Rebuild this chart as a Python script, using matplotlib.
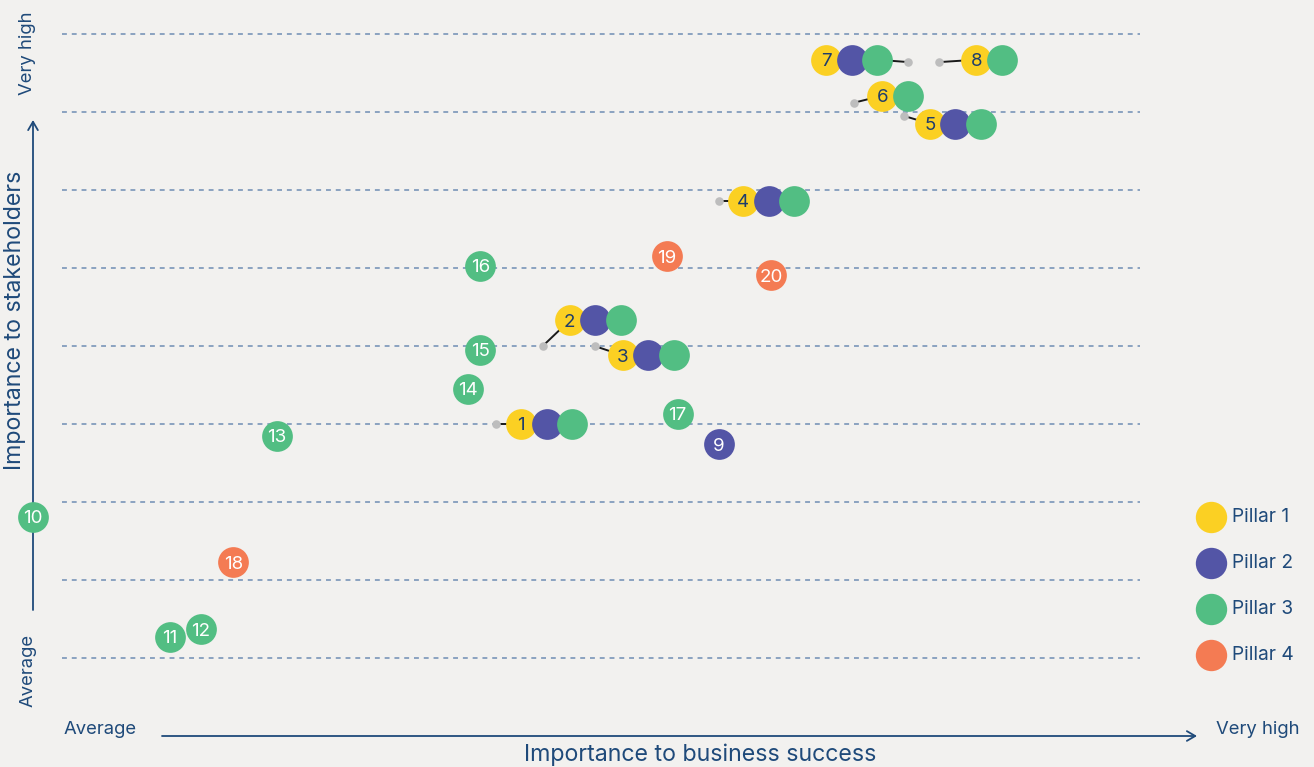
import matplotlib
matplotlib.use("Agg")
from matplotlib import pyplot as plt

# ---- data -----------------------------------------------------------------
# standalone topics: id, business importance (x), stakeholder importance (y), pillar
single_ids = [9, 10, 11, 12, 13, 14, 15, 16, 17, 18, 19, 20]
single_x = [6.09, -0.27, 1.00, 1.29, 1.99, 3.77, 3.88, 3.88, 5.71, 1.59, 5.61, 6.58]
single_y = [2.74, 1.81, 0.27, 0.37, 2.85, 3.45, 3.95, 5.03, 3.13, 1.23, 5.15, 4.91]
single_pillar = [2, 3, 3, 3, 3, 3, 3, 3, 3, 4, 4, 4]

# topics shared by several pillars: true position (grey dot) + label position
group_ids = [1, 2, 3, 4, 5, 6, 7, 8]
group_x = [4.03, 4.46, 4.94, 6.09, 7.81, 7.35, 7.85, 8.14]
group_y = [3.00, 4.00, 4.00, 5.86, 6.95, 7.12, 7.64, 7.64]
label_x = [4.26, 4.71, 5.20, 6.32, 8.05, 7.61, 7.09, 8.48]
label_y = [3.00, 4.33, 3.88, 5.86, 6.85, 7.21, 7.67, 7.67]
group_pillars = [[1, 2, 3], [1, 2, 3], [1, 2, 3], [1, 2, 3],
                 [1, 2, 3], [1, 3], [1, 2, 3], [1, 3]]
# which circle of the cluster the leader line ends on (7 is joined at its right end)
leader_to_last = [False, False, False, False, False, False, True, False]

pillar_names = ["Pillar 1", "Pillar 2", "Pillar 3", "Pillar 4"]
grid_levels = list(range(0, 9))

# ---- style ----------------------------------------------------------------
BG = "#F2F1EF"
NAVY = "#1F4A7A"
COLORS = {1: "#FBD023", 2: "#5355A6", 3: "#52BE83", 4: "#F47B53"}
TXT = {1: "#1F3D6B", 2: "white", 3: "white", 4: "white"}
FONT = "Inter"
S = 490          # circle marker area
STEP = 25.5 / 107.8  # horizontal spacing of circles in a cluster (data units)
NUM_FS = 13.5

plt.rcParams["font.family"] = [FONT, "DejaVu Sans"]

W, H = 1314, 767
fig = plt.figure(figsize=(W / 100, H / 100), dpi=100, facecolor=BG)
ax = fig.add_axes([0, 0, 1, 1])
ax.set_facecolor(BG)
ax.set_xlim(-62 / 107.8, (W - 62) / 107.8)
ax.set_ylim((658 - H) / 78, 658 / 78)
ax.axis("off")

# dashed reference lines
ax.hlines(grid_levels, 0, 10, colors="#6F8DB4", linestyles=(0, (3.2, 3.2)), lw=1.1, zorder=1)

# standalone topics
for i, x, y, p in zip(single_ids, single_x, single_y, single_pillar):
    ax.scatter(x, y, s=S, color=COLORS[p], lw=0, zorder=4, clip_on=False)
    ax.text(x, y, str(i), ha="center", va="center_baseline", fontsize=NUM_FS, color=TXT[p],
            zorder=5)

# clustered topics
for k, i in enumerate(group_ids):
    pills = group_pillars[k]
    xs = [label_x[k] + j * STEP for j in range(len(pills))]
    end_x = xs[-1] if leader_to_last[k] else xs[0]
    ax.plot([group_x[k], end_x], [group_y[k], label_y[k]], color="#1A1A1A", lw=1.4, zorder=2)
    ax.scatter(group_x[k], group_y[k], s=38, color="#BDBDBD", lw=0, zorder=3)
    for j, (cx, p) in enumerate(zip(xs, pills)):
        ax.scatter(cx, label_y[k], s=S, color=COLORS[p], lw=0, zorder=4 + j * 0.1)
    ax.text(xs[0], label_y[k], str(i), ha="center", va="center_baseline", fontsize=NUM_FS,
            color=TXT[pills[0]], zorder=6)


def fpt(px, py):
    return (px / W, 1 - py / H)


# legend
for n, name in enumerate(pillar_names):
    lx, ly = fpt(1211, 517 + n * 46)
    ax.scatter([lx], [ly], s=S + 20, color=COLORS[n + 1], lw=0, transform=fig.transFigure,
               clip_on=False, zorder=4)
    fig.text(*fpt(1232, 517 + n * 46), name, ha="left", va="center", fontsize=13.8, color=NAVY)

# axes arrows and labels
arrow = dict(arrowstyle="->,head_length=0.6,head_width=0.35", color=NAVY, lw=1.3,
             shrinkA=0, shrinkB=0)
ax.annotate("", xy=fpt(1197, 736), xytext=fpt(162, 736), xycoords="figure fraction",
            textcoords="figure fraction", arrowprops=arrow)
ax.annotate("", xy=fpt(33, 120), xytext=fpt(33, 610), xycoords="figure fraction",
            textcoords="figure fraction", arrowprops=arrow, zorder=0)

fig.text(*fpt(64, 729), "Average", ha="left", va="center", fontsize=13.3, color=NAVY)
fig.text(*fpt(1299, 729), "Very high", ha="right", va="center", fontsize=13.3, color=NAVY)
fig.text(*fpt(700, 755), "Importance to business success", ha="center", va="center",
         fontsize=16.7, color=NAVY)
fig.text(*fpt(28, 53), "Very high", ha="center", va="center", rotation=90, fontsize=13.3,
         color=NAVY)
fig.text(*fpt(28, 670), "Average", ha="center", va="center", rotation=90, fontsize=13.3,
         color=NAVY)
fig.text(*fpt(15, 320), "Importance to stakeholders", ha="center", va="center", rotation=90,
         fontsize=16.7, color=NAVY)

fig.savefig("out.png", dpi=100, facecolor=BG)
